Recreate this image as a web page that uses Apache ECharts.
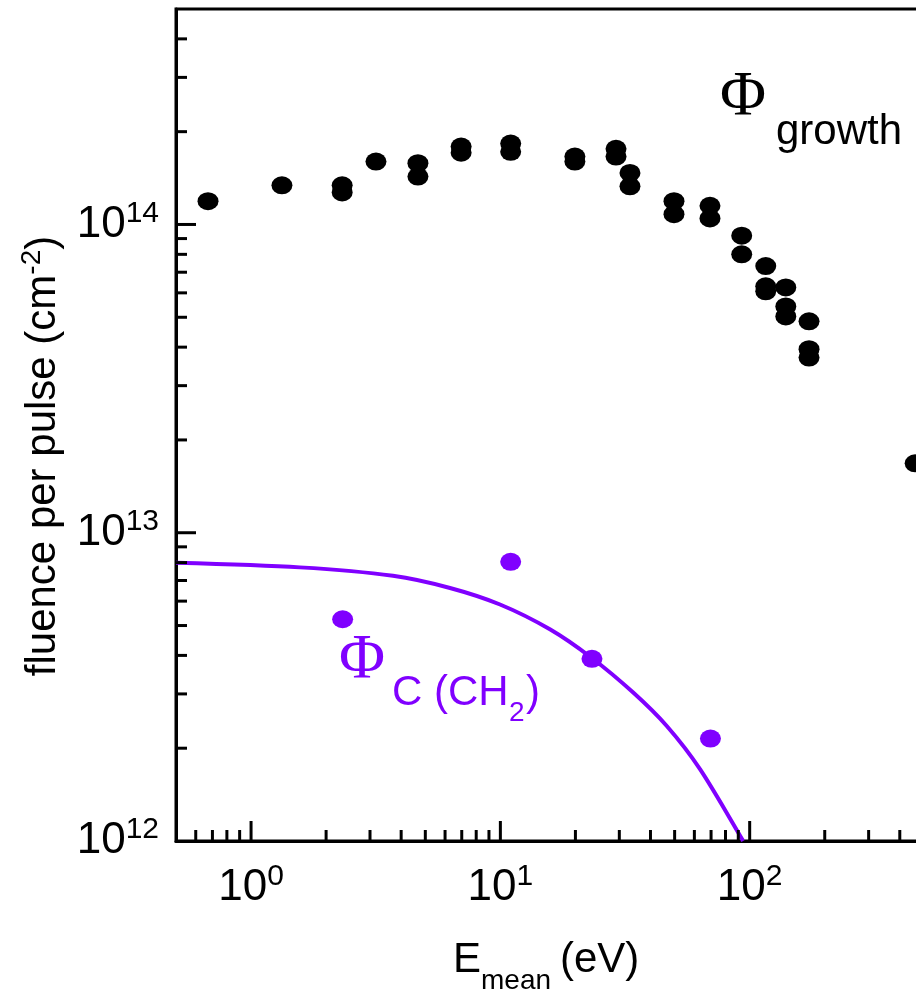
<!DOCTYPE html>
<html><head><meta charset="utf-8">
<script src="https://cdn.jsdelivr.net/npm/echarts@6/dist/echarts.min.js"></script>
<style>html,body{margin:0;padding:0;overflow:hidden;background:#fff;width:916px;height:997px}#c{width:1100px;height:997px}</style>
</head><body><div id="c"></div>
<script>
// ---- data ----
const growthE = [0.672, 1.33, 2.32, 2.32, 3.17, 4.67, 4.67, 6.96, 6.96, 11.0, 11.0, 19.9, 19.9, 29.1, 29.1, 33.1, 33.1, 49.7, 49.7, 69.3, 69.3, 92.9, 92.9, 116, 116, 116, 139.6, 139.6, 139.6, 173, 173, 173, 461];
const growthF = [1.19e14, 1.34e14, 1.34e14, 1.27e14, 1.60e14, 1.58e14, 1.43e14, 1.79e14, 1.71e14, 1.83e14, 1.72e14, 1.66e14, 1.60e14, 1.76e14, 1.66e14, 1.47e14, 1.33e14, 1.19e14, 1.08e14, 1.15e14, 1.046e14, 9.2e13, 8.0e13, 7.33e13, 6.3e13, 6.07e13, 6.25e13, 5.42e13, 5.03e13, 4.85e13, 3.94e13, 3.70e13, 1.68e13];
const ch2E = [2.33, 11.0, 23.3, 69.6];
const ch2F = [5.24e12, 8.05e12, 3.90e12, 2.15e12];
const fitE = [0.5, 1.57, 3.71, 6.28, 9.97, 15.8, 23.2, 34.1, 46.5, 63.2, 94.1];
const fitF = [7.99e12, 7.72e12, 7.25e12, 6.62e12, 5.85e12, 4.86e12, 3.93e12, 3.03e12, 2.36e12, 1.71e12, 1.0e12];
const xMajorTicks = [1, 10, 100];
const xMinorTicks = [0.6, 0.7, 0.8, 0.9, 2, 3, 4, 5, 6, 7, 8, 9, 20, 30, 40, 50, 60, 70, 80, 90, 200, 300, 400, 500, 600, 700, 800, 900];
const yMajorTicks = [1e13, 1e14];
const yMinorTicks = [2e12, 3e12, 4e12, 5e12, 6e12, 7e12, 8e12, 9e12, 2e13, 3e13, 4e13, 5e13, 6e13, 7e13, 8e13, 9e13, 2e14, 3e14, 4e14];
const X_MIN = 0.5, X_MAX = 1000, Y_MIN = 1e12, Y_MAX = 5e14;

const FONT = "'Liberation Sans', Arial, sans-serif";
const SERIF = "'Liberation Serif', 'Times New Roman', serif";
const PURPLE = '#8000ff';

function powLabel(v) {
  const l = Math.log10(v), e = Math.round(l);
  if (Math.abs(l - e) > 1e-6) return '';
  return '{b|10}{s|' + e + '}';
}
const labelRich = {
  b: { fontSize: 44, fontFamily: FONT, color: '#000', lineHeight: 52 },
  s: { fontSize: 30, fontFamily: FONT, color: '#000', lineHeight: 30, verticalAlign: 'top' }
};

function tickSeries(list, isX, major) {
  return {
    type: 'custom', silent: true, clip: false, z: 5,
    data: list.map(v => isX ? [v, Y_MIN] : [X_MIN, v]),
    renderItem: function (params, api) {
      const p = api.coord([api.value(0), api.value(1)]);
      const len = major ? 20 : 11;
      const shape = isX ? { x1: p[0], y1: p[1], x2: p[0], y2: p[1] - len }
                        : { x1: p[0], y1: p[1], x2: p[0] + len, y2: p[1] };
      return { type: 'line', shape: shape, style: { stroke: '#000', lineWidth: 3 } };
    }
  };
}

const chart = echarts.init(document.getElementById('c'), null, { renderer: 'canvas' });
chart.setOption({
  animation: false,
  backgroundColor: '#fff',
  grid: { left: 176, top: 9, width: 823, height: 832, show: true, borderColor: '#000', borderWidth: 3, backgroundColor: 'transparent' },
  xAxis: {
    type: 'log', logBase: 10, min: X_MIN, max: X_MAX,
    axisLine: { show: true, onZero: false, lineStyle: { color: '#000', width: 3 } },
    axisTick: { show: false }, minorTick: { show: false }, splitLine: { show: false },
    axisLabel: { margin: 21, formatter: powLabel, rich: labelRich }
  },
  yAxis: {
    type: 'log', logBase: 10, min: Y_MIN, max: Y_MAX,
    axisLine: { show: true, onZero: false, lineStyle: { color: '#000', width: 3 } },
    axisTick: { show: false }, minorTick: { show: false }, splitLine: { show: false },
    axisLabel: { margin: 17, formatter: powLabel, rich: labelRich }
  },
  series: [
    tickSeries(xMajorTicks, true, true),
    tickSeries(xMinorTicks, true, false),
    tickSeries(yMajorTicks, false, true),
    tickSeries(yMinorTicks, false, false),
    {
      type: 'line', name: 'fit', data: fitE.map((e, i) => [e, fitF[i]]),
      smooth: 0.3, showSymbol: false, symbol: 'none',
      lineStyle: { color: PURPLE, width: 4, opacity: 1 }, z: 3
    },
    {
      type: 'scatter', name: 'growth', data: growthE.map((e, i) => [e, growthF[i]]),
      symbol: 'circle', symbolSize: [21, 18], itemStyle: { color: '#000', opacity: 1 }, z: 4
    },
    {
      type: 'scatter', name: 'C(CH2)', data: ch2E.map((e, i) => [e, ch2F[i]]),
      symbol: 'circle', symbolSize: [21, 18], itemStyle: { color: PURPLE, opacity: 1 }, z: 4
    }
  ],
  graphic: [
    { type: 'text', x: 720, y: 98, style: { text: 'Φ', fontSize: 63, fontFamily: SERIF, fill: '#000', align: 'left', verticalAlign: 'middle' } },
    { type: 'text', x: 776, y: 132, style: { text: 'growth', fontSize: 42, fontFamily: FONT, fill: '#000', align: 'left', verticalAlign: 'middle' } },
    { type: 'text', x: 339, y: 661, style: { text: 'Φ', fontSize: 63, fontFamily: SERIF, fill: PURPLE, align: 'left', verticalAlign: 'middle' } },
    { type: 'text', x: 392, y: 693, style: { text: 'C (CH', fontSize: 42, fontFamily: FONT, fill: PURPLE, align: 'left', verticalAlign: 'middle' } },
    { type: 'text', x: 509, y: 713, style: { text: '2', fontSize: 28, fontFamily: FONT, fill: PURPLE, align: 'left', verticalAlign: 'middle' } },
    { type: 'text', x: 526, y: 693, style: { text: ')', fontSize: 42, fontFamily: FONT, fill: PURPLE, align: 'left', verticalAlign: 'middle' } },
    { type: 'text', x: 453, y: 960, style: { text: 'E', fontSize: 42, fontFamily: FONT, fill: '#000', align: 'left', verticalAlign: 'middle' } },
    { type: 'text', x: 481, y: 981, style: { text: 'mean', fontSize: 28, fontFamily: FONT, fill: '#000', align: 'left', verticalAlign: 'middle' } },
    { type: 'text', x: 560, y: 960, style: { text: '(eV)', fontSize: 42, fontFamily: FONT, fill: '#000', align: 'left', verticalAlign: 'middle' } },
    { type: 'text', x: 43, y: 456, rotation: Math.PI / 2,
      style: { text: '{a|fluence per pulse (cm}{s|-2}{a|)}', align: 'center', verticalAlign: 'middle',
        rich: { a: { fontSize: 42, fontFamily: FONT, fill: '#000', lineHeight: 50 },
                s: { fontSize: 28, fontFamily: FONT, fill: '#000', lineHeight: 28, verticalAlign: 'top' } } } }
  ]
});
</script>
</body></html>
